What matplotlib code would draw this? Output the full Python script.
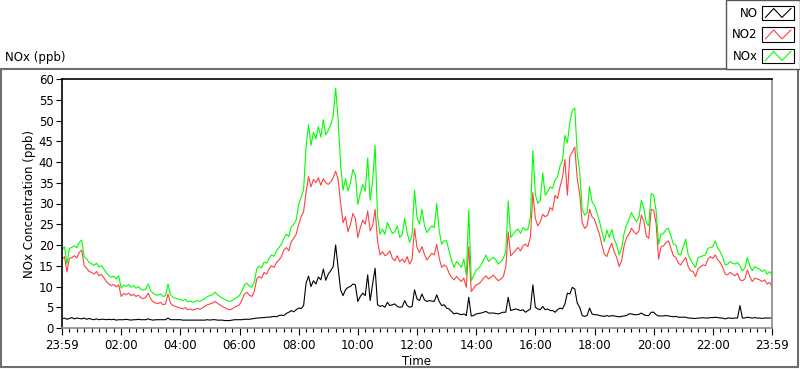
import numpy as np
import matplotlib
matplotlib.use("Agg")
import matplotlib.pyplot as plt
from matplotlib.patches import Rectangle
from matplotlib.lines import Line2D
from matplotlib.legend_handler import HandlerBase

# 5-minute readings, 23:59 -> 23:59 (ppb)
no2 = [
    16.5, 17.2, 13.5, 16.8, 17.0, 17.4, 16.9, 18.2, 18.8, 15.0, 14.4, 13.6,
    13.4, 13.0, 13.6, 12.6, 12.9, 12.1, 11.2, 10.6, 10.2, 10.5, 9.9, 10.4,
    7.6, 8.3, 8.0, 8.4, 7.8, 8.1, 7.6, 7.9, 7.3, 7.1, 7.4, 8.4,
    7.0, 6.3, 6.0, 5.9, 6.2, 5.6, 5.8, 8.2, 6.0, 5.4, 5.2, 5.0,
    4.8, 4.6, 4.9, 4.4, 4.6, 4.3, 4.5, 4.7, 4.5, 4.9, 5.2, 5.6,
    5.8, 6.0, 6.4, 6.0, 5.6, 5.2, 4.9, 4.6, 4.4, 4.6, 5.0, 5.3,
    5.6, 6.8, 8.2, 8.6, 7.9, 7.6, 8.8, 11.8, 12.4, 12.0, 13.4, 13.0,
    14.2, 15.0, 14.6, 15.8, 16.4, 17.2, 18.8, 19.4, 18.6, 20.8, 21.6, 22.6,
    25.0, 26.8, 28.0, 32.8, 36.5, 34.0, 35.8, 35.0, 36.2, 34.4, 36.0, 35.0,
    34.6, 35.2, 36.2, 37.8, 35.8, 30.2, 25.4, 26.8, 23.2, 25.0, 27.6, 26.4,
    21.8, 24.2, 26.0, 25.0, 28.2, 23.4, 24.6, 28.6, 21.0, 17.6, 18.4, 17.4,
    17.8, 18.6, 16.8, 16.2, 17.4, 16.0, 16.6, 15.8, 17.2, 15.4, 16.6, 24.0,
    19.4, 18.2, 19.6, 17.8, 16.4, 17.2, 18.0, 17.6, 20.2, 16.8, 14.6, 15.2,
    14.8, 13.2, 12.2, 11.6, 12.4, 11.8, 11.2, 12.0, 9.8, 19.6, 8.8, 9.6,
    10.4, 10.6, 11.2, 12.0, 12.6, 11.8, 12.2, 12.8, 12.0, 11.4, 11.8, 12.4,
    14.6, 23.2, 17.4, 18.0, 18.8, 19.4, 18.6, 19.8, 20.2, 19.6, 22.0, 32.6,
    26.4, 24.6, 25.6, 27.4, 26.8, 27.2, 29.0, 28.4, 32.0, 31.2, 34.0, 36.2,
    40.6, 32.0, 41.4, 42.4, 43.6, 36.0, 32.4, 25.4, 24.0, 24.6, 28.6, 26.8,
    26.2, 24.4, 22.6, 20.0, 17.8, 17.2, 19.0, 20.4, 18.4, 17.0, 14.8, 16.2,
    19.8, 21.8, 22.6, 24.0, 23.2, 22.6, 23.4, 27.2, 25.8, 22.2, 21.6, 28.6,
    28.4, 25.2, 16.6, 19.6, 19.8, 20.6, 21.0, 19.2, 17.4, 17.0, 15.6, 15.2,
    16.2, 17.0, 14.8, 13.8, 13.6, 12.4, 14.2, 14.8, 15.2, 15.0, 16.6, 17.2,
    16.8, 17.6, 16.4, 15.8, 14.6, 13.0, 12.8, 13.4, 13.0, 12.6, 13.2, 11.6,
    11.4, 11.8, 14.0, 12.4, 11.2, 12.0, 11.8, 11.6, 11.2, 11.6, 10.6, 11.0,
    10.0,
]

nox = [
    18.8, 19.6, 15.4, 19.2, 19.4, 19.8, 19.3, 20.6, 21.2, 17.2, 16.6, 15.8,
    15.5, 15.1, 15.6, 14.7, 15.0, 14.2, 13.3, 12.6, 12.2, 12.5, 11.8, 12.6,
    9.6, 10.3, 10.0, 10.5, 9.8, 10.2, 9.6, 10.0, 9.3, 9.1, 9.4, 10.6,
    9.0, 8.3, 8.0, 7.9, 8.2, 7.6, 7.8, 10.6, 8.0, 7.4, 7.2, 7.0,
    6.8, 6.6, 6.9, 6.3, 6.5, 6.2, 6.4, 6.6, 6.4, 6.8, 7.1, 7.6,
    7.8, 8.0, 8.6, 8.1, 7.6, 7.2, 6.9, 6.6, 6.4, 6.6, 7.0, 7.4,
    7.8, 9.0, 10.4, 10.8, 10.1, 9.8, 11.1, 14.2, 14.9, 14.5, 15.9, 15.6,
    16.8, 17.6, 17.3, 18.6, 19.4, 20.2, 21.6, 22.6, 22.0, 24.4, 25.0, 26.0,
    29.8, 31.5, 33.4, 43.6, 49.0, 44.0, 47.2, 45.6, 48.5, 46.0, 50.2, 46.5,
    47.6, 49.0, 51.0, 57.8, 50.4, 39.4, 33.2, 36.0, 33.0, 35.0, 38.2, 36.8,
    29.8, 32.4, 34.6, 33.0, 41.0, 30.8, 35.4, 44.0, 26.8, 22.6, 23.8, 22.6,
    25.4, 24.0, 22.8, 23.2, 24.6, 21.8, 22.6, 26.4, 23.0, 20.6, 22.4, 33.2,
    26.6, 25.0, 28.6, 24.8, 23.0, 23.8, 24.6, 24.2, 30.0, 23.4, 20.2, 21.0,
    21.0, 18.6, 16.4, 14.6, 16.0, 15.4, 14.6, 16.6, 12.8, 28.4, 11.4, 12.6,
    14.0, 14.4, 15.2, 16.4, 17.6, 16.0, 16.6, 17.0, 16.4, 15.4, 16.0, 16.8,
    18.4, 30.6, 21.8, 22.6, 23.4, 23.8, 22.8, 24.2, 23.6, 23.8, 26.6, 42.8,
    32.2, 30.0, 30.8, 37.4, 32.0, 32.8, 34.0, 33.6, 35.6, 36.4, 39.0, 40.4,
    46.4, 44.6, 49.6, 52.4, 53.0, 42.0, 37.6, 28.6, 27.2, 27.8, 34.0, 30.4,
    29.6, 27.8, 25.8, 23.2, 20.8, 23.6, 21.8, 23.8, 21.4, 20.0, 17.6, 19.2,
    22.8, 24.8, 26.2, 27.8, 26.6, 25.6, 26.6, 30.8, 28.8, 25.4, 24.6, 32.4,
    32.0, 28.2, 20.2, 22.6, 22.8, 23.8, 24.0, 22.2, 20.2, 20.0, 17.8, 17.6,
    19.6, 21.4, 17.6, 16.4, 15.4, 14.6, 17.0, 17.2, 17.4, 17.6, 19.2, 19.4,
    19.6, 21.0, 19.2, 18.4, 17.0, 15.2, 15.4, 16.0, 15.6, 15.4, 15.8, 15.0,
    13.8, 14.4, 17.0, 15.0, 13.8, 14.8, 14.4, 14.2, 13.6, 14.0, 13.0, 13.6,
    12.8,
]

no = [
    2.2, 2.4, 2.1, 2.3, 2.5, 2.2, 2.4, 2.3, 2.2, 2.4, 2.1, 2.3,
    2.1, 2.0, 2.2, 2.0, 2.1, 2.1, 2.0, 2.1, 2.0, 2.1, 1.9, 2.0,
    2.0, 2.0, 2.1, 2.0, 1.9, 2.0, 2.0, 2.1, 2.0, 2.0, 2.0, 2.2,
    2.0, 1.9, 2.0, 2.0, 2.0, 2.0, 2.0, 2.4, 2.0, 2.0, 2.0, 2.0,
    2.0, 1.9, 1.9, 1.9, 1.9, 1.9, 1.9, 1.9, 1.9, 1.9, 1.9, 2.0,
    1.9, 2.0, 2.0, 1.9, 1.9, 1.9, 1.8, 1.8, 1.8, 1.9, 2.0, 2.0,
    2.0, 2.0, 2.1, 2.1, 2.1, 2.2, 2.3, 2.4, 2.4, 2.5, 2.5, 2.6,
    2.6, 2.7, 2.8, 2.7, 3.0, 3.1, 3.0, 3.5, 3.8, 4.2, 3.9, 4.4,
    4.8, 4.7, 5.4, 10.8, 12.5, 10.0, 11.4, 10.6, 12.3, 11.6, 14.2, 11.5,
    13.0, 13.8, 14.8, 20.0, 14.6, 9.2, 7.8, 9.2, 9.8, 10.0, 10.6, 10.4,
    6.4, 7.6, 8.4, 7.8, 12.8, 6.6, 10.6, 14.4, 5.6, 5.2, 5.4, 5.0,
    6.2, 5.4, 5.6, 5.8, 5.2, 5.0, 5.1, 6.6, 5.4, 5.0, 5.2, 9.2,
    7.0, 6.6, 8.2, 6.8, 6.4, 6.6, 6.5, 6.4, 8.0, 6.4, 5.4, 5.6,
    4.8, 4.6, 4.0, 3.4, 3.6, 3.4, 3.2, 3.4, 3.0, 7.4, 2.9, 3.0,
    3.4, 3.5, 3.6, 3.8, 4.0, 3.6, 3.6, 3.6, 3.5, 3.4, 3.6, 3.8,
    3.8, 7.4, 4.2, 4.4, 4.6, 4.4, 4.2, 4.4, 3.8, 4.2, 4.6, 10.4,
    5.0, 4.6, 4.4, 5.2, 4.4, 4.6, 4.2, 4.2, 3.8, 4.4, 4.8, 4.6,
    5.8, 8.4, 8.2, 9.8, 9.4, 6.0, 5.0, 3.0, 2.8, 3.0, 4.8, 3.4,
    3.2, 3.2, 3.0, 2.9, 2.8, 3.0, 2.8, 3.0, 2.9, 2.8, 2.7, 2.8,
    2.9, 3.0, 3.4, 3.4, 3.2, 3.2, 3.3, 3.6, 3.2, 3.0, 3.0, 3.8,
    3.8, 3.2, 2.9, 2.9, 2.9, 3.0, 2.9, 2.8, 2.7, 2.8, 2.6, 2.6,
    2.6, 2.6, 2.4, 2.4, 2.3, 2.3, 2.4, 2.4, 2.5, 2.4, 2.4, 2.5,
    2.5, 2.6, 2.5, 2.4, 2.4, 2.2, 2.4, 2.4, 2.3, 2.4, 2.4, 5.4,
    2.4, 2.4, 2.6, 2.5, 2.4, 2.5, 2.4, 2.4, 2.3, 2.4, 2.4, 2.4,
    2.4,
]

tick_hours = list(range(0, 25, 2))
tick_labels = ["23:59", "02:00", "04:00", "06:00", "08:00", "10:00", "12:00",
               "14:00", "16:00", "18:00", "20:00", "22:00", "23:59"]

hours = np.arange(len(no2)) * 5 / 60.0


class BoxedZigZag(HandlerBase):
    # LabVIEW-style plot legend glyph: framed box with a little zig-zag
    def create_artists(self, legend, orig_handle, xdescent, ydescent,
                       width, height, fontsize, trans):
        x0, y0 = -xdescent, -ydescent
        box = Rectangle((x0, y0), width, height, facecolor="white",
                        edgecolor="black", lw=0.8, transform=trans)
        xs = x0 + width * np.array([0.1, 0.36, 0.62, 0.9])
        ys = y0 + height * np.array([0.2, 0.82, 0.2, 0.82])
        zz = Line2D(xs, ys, color=orig_handle.get_color(), lw=0.8,
                    transform=trans)
        return [box, zz]


plt.rcParams["font.family"] = "DejaVu Sans"
plt.rcParams["font.size"] = 8.5

fig = plt.figure(figsize=(8.0, 3.69), dpi=100)
ax = fig.add_axes([62 / 800, 1 - 328 / 369, 710 / 800, 249 / 369])

l_no, = ax.plot(hours, no, color="black", lw=0.8, label="NO")
l_no2, = ax.plot(hours, no2, color="#ff4040", lw=0.8, label="NO2")
l_nox, = ax.plot(hours, nox, color="#00ff00", lw=0.8, label="NOx")

ax.set_xlim(0, 24)
ax.set_ylim(0, 60)
ax.set_yticks(range(0, 61, 5))
ax.set_xticks(tick_hours)
ax.set_xticklabels(tick_labels)
ax.set_xticks(np.arange(0, 24.01, 0.25), minor=True)
ax.tick_params(axis="x", which="major", length=5, width=0.8, pad=3)
ax.tick_params(axis="x", which="minor", length=3, width=0.8)
ax.tick_params(axis="y", length=4, width=0.8, pad=2)
ax.set_xlabel("Time", labelpad=2)
ax.set_ylabel("NOx Concentration (ppb)", labelpad=2)

for side in ["left", "top"]:
    ax.spines[side].set_color("black")
    ax.spines[side].set_linewidth(1.2)
for side in ["right", "bottom"]:
    ax.spines[side].set_color("#8a8a8a")
    ax.spines[side].set_linewidth(1.2)

# outer panel frame
fig.add_artist(Rectangle((1 / 800, 2 / 369), 797 / 800, 298 / 369,
                         transform=fig.transFigure, fill=False,
                         edgecolor="#6e6e6e", lw=1.5))
fig.text(5 / 800, 1 - 57 / 369, "NOx (ppb)", ha="left", va="center")

leg = fig.legend(handles=[l_no, l_no2, l_nox], loc="upper right",
                 bbox_to_anchor=(1.0, 1.0), markerfirst=False,
                 handler_map={Line2D: BoxedZigZag()},
                 handlelength=2.7, handleheight=1.5, labelspacing=0.6,
                 handletextpad=0.4, borderpad=0.5, borderaxespad=0.0,
                 fancybox=False, framealpha=1, edgecolor="#555555")
leg.get_frame().set_linewidth(1.0)

fig.savefig("out.png", dpi=100)
